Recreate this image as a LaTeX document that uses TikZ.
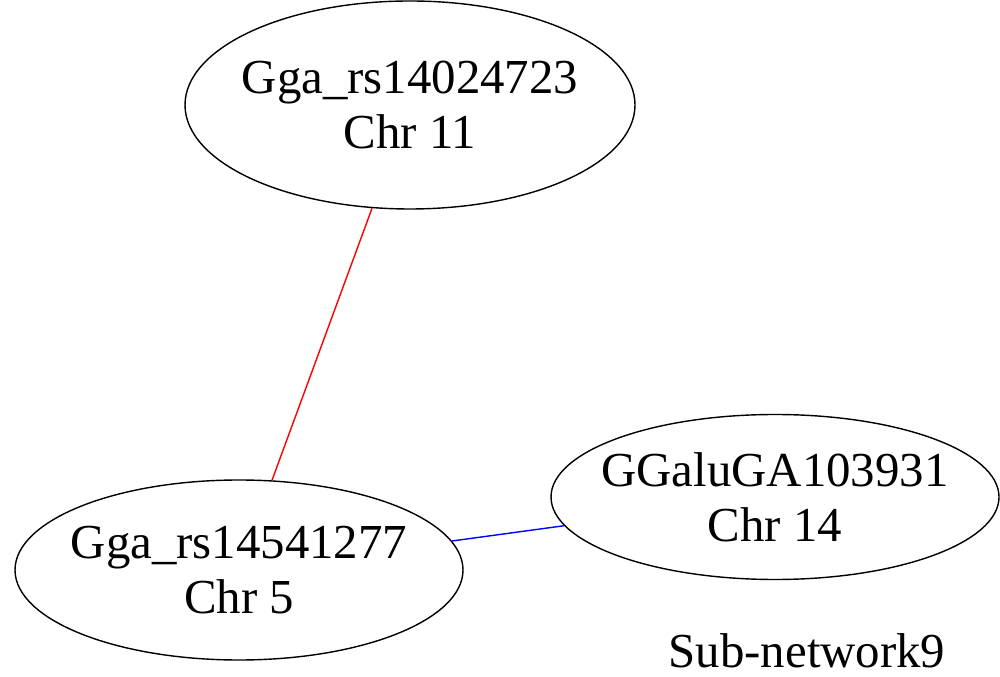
\documentclass[tikz,border=0pt]{standalone}
\usepackage{fontspec}
\setmainfont{Liberation Serif}
\usetikzlibrary{shapes,positioning}

\begin{document}
\begin{tikzpicture}[-,semithick,font=\fontsize{13.9}{15.6}\selectfont]
  \tikzstyle{every label}=[align=center, inner sep=0pt]
  \tikzstyle{snp}=[ellipse, draw, thin, inner sep=0pt]
  \useasboundingbox (0,0) rectangle (10,6.76);

  \node[snp, minimum width=4.5cm, minimum height=2.08cm, label={center:Gga\_rs14024723\\Chr 11}]  (A) at (4.10,5.71) {};
  \node[snp, minimum width=4.48cm, minimum height=1.80cm, label={center:Gga\_rs14541277\\Chr 5}]  (B) at (2.39,1.06) {};
  \node[snp, minimum width=4.48cm, minimum height=1.65cm, label={center:GGaluGA103931\\Chr 14}]   (C) at (7.75,1.79) {};
  \node[anchor=base, inner sep=0pt] (L) at (8.07,0.09) {Sub-network9};

  \path (A) edge [red, thin]  (B)
        (B) edge [blue, thin] (C);

\end{tikzpicture}
\end{document}
